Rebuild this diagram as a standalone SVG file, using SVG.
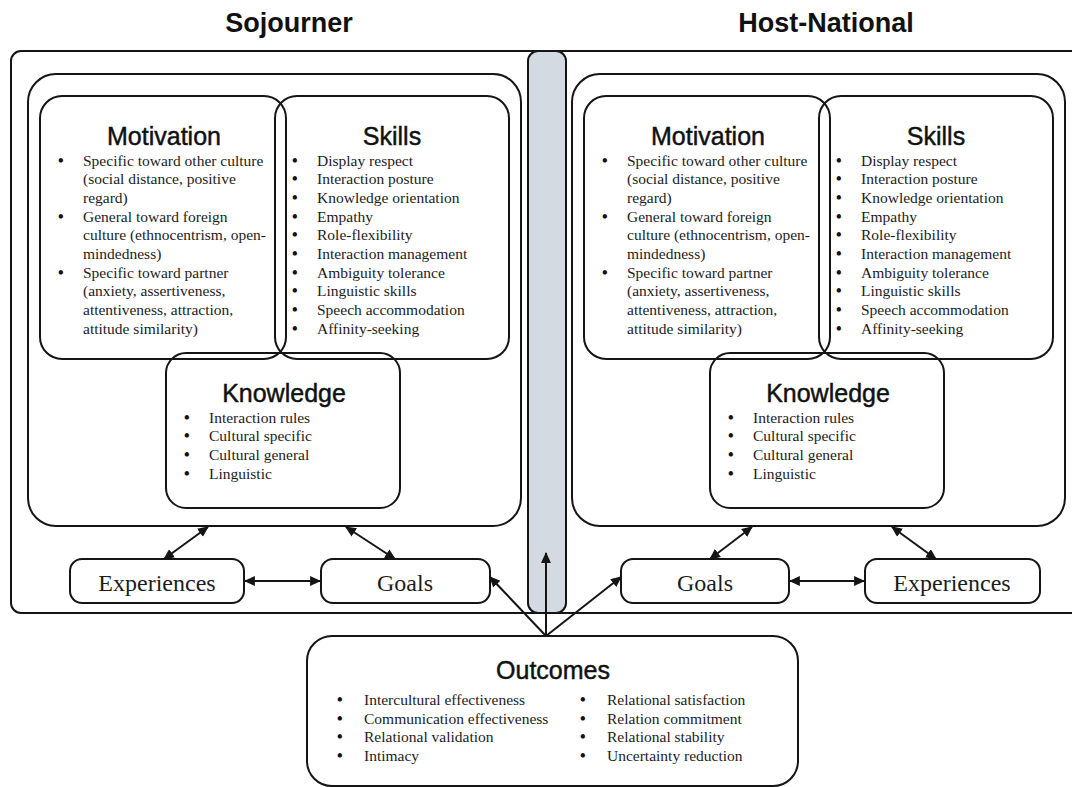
<svg xmlns="http://www.w3.org/2000/svg" width="1072" height="787" viewBox="0 0 1072 787">
  <defs>
    <style>
      .box { fill: none; stroke: #151515; stroke-width: 2; }
      .bar { fill: #d4dae2; stroke: #151515; stroke-width: 2; }
      .head { font-family: "Liberation Sans", Arial, sans-serif; font-weight: bold; font-size: 27px; fill: #111; text-anchor: middle; }
      .title { font-family: "Liberation Sans", Arial, sans-serif; font-size: 25px; fill: #111; stroke: #111; stroke-width: 0.45; text-anchor: middle; }
      .item { font-family: "Liberation Serif", "Times New Roman", serif; font-size: 15.5px; fill: #1c1c1c; }
      .b { font-size: 16px; font-weight: bold; fill: #111; }
      .label { font-family: "Liberation Serif", "Times New Roman", serif; font-size: 24px; fill: #1c1c1c; text-anchor: middle; }
      .link { fill: none; stroke: #151515; stroke-width: 2; }
    </style>
    <marker id="arrow" viewBox="0 0 10 10" refX="9" refY="5" markerWidth="11" markerHeight="11" markerUnits="userSpaceOnUse" orient="auto-start-reverse">
      <path d="M0,0.5 L10,5 L0,9.5 z" fill="#151515"/>
    </marker>
  </defs>

  <rect width="1072" height="787" fill="#ffffff"/>

  <!-- column headings -->
  <text class="head" x="289" y="32">Sojourner</text>
  <text class="head" x="826" y="32">Host-National</text>

  <!-- shared frame and the central channel -->
  <g id="frame">
    <rect class="box" x="11" y="51" width="1090" height="562" rx="10"/>
  </g>
  <g id="channel">
    <rect class="bar" x="528" y="51" width="38" height="562" rx="10"/>
  </g>

  <!-- sojourner competence cluster -->
  <g id="sojourner-competence">
    <rect class="box" x="28" y="74" width="493" height="452" rx="28"/>
  </g>
  <g id="sojourner-motivation">
    <rect class="box" x="40" y="96" width="246" height="263" rx="22"/>
    <text class="title" x="164" y="145">Motivation</text>
    <g class="item">
      <text x="58" y="165.5"><tspan class="b">•</tspan><tspan x="83">Specific toward other culture</tspan></text>
      <text x="83" y="184.2">(social distance, positive</text>
      <text x="83" y="202.9">regard)</text>
      <text x="58" y="221.6"><tspan class="b">•</tspan><tspan x="83">General toward foreign</tspan></text>
      <text x="83" y="240.3">culture (ethnocentrism, open-</text>
      <text x="83" y="259">mindedness)</text>
      <text x="58" y="277.7"><tspan class="b">•</tspan><tspan x="83">Specific toward partner</tspan></text>
      <text x="83" y="296.4">(anxiety, assertiveness,</text>
      <text x="83" y="315.1">attentiveness, attraction,</text>
      <text x="83" y="333.8">attitude similarity)</text>
    </g>
  </g>
  <g id="sojourner-skills">
    <rect class="box" x="275" y="96" width="234" height="263" rx="22"/>
    <text class="title" x="392" y="145">Skills</text>
    <g class="item">
      <text x="292" y="165.5"><tspan class="b">•</tspan><tspan x="317">Display respect</tspan></text>
      <text x="292" y="184.2"><tspan class="b">•</tspan><tspan x="317">Interaction posture</tspan></text>
      <text x="292" y="202.9"><tspan class="b">•</tspan><tspan x="317">Knowledge orientation</tspan></text>
      <text x="292" y="221.6"><tspan class="b">•</tspan><tspan x="317">Empathy</tspan></text>
      <text x="292" y="240.3"><tspan class="b">•</tspan><tspan x="317">Role-flexibility</tspan></text>
      <text x="292" y="259"><tspan class="b">•</tspan><tspan x="317">Interaction management</tspan></text>
      <text x="292" y="277.7"><tspan class="b">•</tspan><tspan x="317">Ambiguity tolerance</tspan></text>
      <text x="292" y="296.4"><tspan class="b">•</tspan><tspan x="317">Linguistic skills</tspan></text>
      <text x="292" y="315.1"><tspan class="b">•</tspan><tspan x="317">Speech accommodation</tspan></text>
      <text x="292" y="333.8"><tspan class="b">•</tspan><tspan x="317">Affinity-seeking</tspan></text>
    </g>
  </g>
  <g id="sojourner-knowledge">
    <rect class="box" x="166" y="353" width="234" height="155" rx="20"/>
    <text class="title" x="284" y="402">Knowledge</text>
    <g class="item">
      <text x="184" y="422.7"><tspan class="b">•</tspan><tspan x="209">Interaction rules</tspan></text>
      <text x="184" y="441.4"><tspan class="b">•</tspan><tspan x="209">Cultural specific</tspan></text>
      <text x="184" y="460.1"><tspan class="b">•</tspan><tspan x="209">Cultural general</tspan></text>
      <text x="184" y="478.8"><tspan class="b">•</tspan><tspan x="209">Linguistic</tspan></text>
    </g>
  </g>
  <g id="sojourner-experiences">
    <rect class="box" x="70" y="559" width="174" height="44" rx="12"/>
    <text class="label" x="157" y="591">Experiences</text>
  </g>
  <g id="sojourner-goals">
    <rect class="box" x="321" y="559" width="169" height="44" rx="12"/>
    <text class="label" x="405" y="591">Goals</text>
  </g>

  <!-- host-national competence cluster -->
  <g id="host-competence">
    <rect class="box" x="572" y="74" width="493" height="452" rx="28"/>
  </g>
  <g id="host-motivation">
    <rect class="box" x="584" y="96" width="246" height="263" rx="22"/>
    <text class="title" x="708" y="145">Motivation</text>
    <g class="item">
      <text x="602" y="165.5"><tspan class="b">•</tspan><tspan x="627">Specific toward other culture</tspan></text>
      <text x="627" y="184.2">(social distance, positive</text>
      <text x="627" y="202.9">regard)</text>
      <text x="602" y="221.6"><tspan class="b">•</tspan><tspan x="627">General toward foreign</tspan></text>
      <text x="627" y="240.3">culture (ethnocentrism, open-</text>
      <text x="627" y="259">mindedness)</text>
      <text x="602" y="277.7"><tspan class="b">•</tspan><tspan x="627">Specific toward partner</tspan></text>
      <text x="627" y="296.4">(anxiety, assertiveness,</text>
      <text x="627" y="315.1">attentiveness, attraction,</text>
      <text x="627" y="333.8">attitude similarity)</text>
    </g>
  </g>
  <g id="host-skills">
    <rect class="box" x="819" y="96" width="234" height="263" rx="22"/>
    <text class="title" x="936" y="145">Skills</text>
    <g class="item">
      <text x="836" y="165.5"><tspan class="b">•</tspan><tspan x="861">Display respect</tspan></text>
      <text x="836" y="184.2"><tspan class="b">•</tspan><tspan x="861">Interaction posture</tspan></text>
      <text x="836" y="202.9"><tspan class="b">•</tspan><tspan x="861">Knowledge orientation</tspan></text>
      <text x="836" y="221.6"><tspan class="b">•</tspan><tspan x="861">Empathy</tspan></text>
      <text x="836" y="240.3"><tspan class="b">•</tspan><tspan x="861">Role-flexibility</tspan></text>
      <text x="836" y="259"><tspan class="b">•</tspan><tspan x="861">Interaction management</tspan></text>
      <text x="836" y="277.7"><tspan class="b">•</tspan><tspan x="861">Ambiguity tolerance</tspan></text>
      <text x="836" y="296.4"><tspan class="b">•</tspan><tspan x="861">Linguistic skills</tspan></text>
      <text x="836" y="315.1"><tspan class="b">•</tspan><tspan x="861">Speech accommodation</tspan></text>
      <text x="836" y="333.8"><tspan class="b">•</tspan><tspan x="861">Affinity-seeking</tspan></text>
    </g>
  </g>
  <g id="host-knowledge">
    <rect class="box" x="710" y="353" width="234" height="155" rx="20"/>
    <text class="title" x="828" y="402">Knowledge</text>
    <g class="item">
      <text x="728" y="422.7"><tspan class="b">•</tspan><tspan x="753">Interaction rules</tspan></text>
      <text x="728" y="441.4"><tspan class="b">•</tspan><tspan x="753">Cultural specific</tspan></text>
      <text x="728" y="460.1"><tspan class="b">•</tspan><tspan x="753">Cultural general</tspan></text>
      <text x="728" y="478.8"><tspan class="b">•</tspan><tspan x="753">Linguistic</tspan></text>
    </g>
  </g>
  <g id="host-goals">
    <rect class="box" x="621" y="559" width="168" height="44" rx="12"/>
    <text class="label" x="705" y="591">Goals</text>
  </g>
  <g id="host-experiences">
    <rect class="box" x="865" y="559" width="175" height="44" rx="12"/>
    <text class="label" x="952" y="591">Experiences</text>
  </g>

  <!-- outcomes -->
  <g id="outcomes">
    <rect class="box" x="307" y="636" width="491" height="150" rx="25"/>
    <text class="title" x="553" y="679">Outcomes</text>
    <g class="item">
      <text x="337" y="705"><tspan class="b">•</tspan><tspan x="364">Intercultural effectiveness</tspan></text>
      <text x="337" y="723.7"><tspan class="b">•</tspan><tspan x="364">Communication effectiveness</tspan></text>
      <text x="337" y="742.4"><tspan class="b">•</tspan><tspan x="364">Relational validation</tspan></text>
      <text x="337" y="761.1"><tspan class="b">•</tspan><tspan x="364">Intimacy</tspan></text>
      <text x="580" y="705"><tspan class="b">•</tspan><tspan x="607">Relational satisfaction</tspan></text>
      <text x="580" y="723.7"><tspan class="b">•</tspan><tspan x="607">Relation commitment</tspan></text>
      <text x="580" y="742.4"><tspan class="b">•</tspan><tspan x="607">Relational stability</tspan></text>
      <text x="580" y="761.1"><tspan class="b">•</tspan><tspan x="607">Uncertainty reduction</tspan></text>
    </g>
  </g>

  <!-- connectors -->
  <g id="connectors">
    <line class="link" x1="164" y1="559" x2="208" y2="527" marker-start="url(#arrow)" marker-end="url(#arrow)"/>
    <line class="link" x1="395" y1="559" x2="346" y2="527" marker-start="url(#arrow)" marker-end="url(#arrow)"/>
    <line class="link" x1="245" y1="581" x2="320" y2="581" marker-start="url(#arrow)" marker-end="url(#arrow)"/>
    <line class="link" x1="710" y1="559" x2="752" y2="527" marker-start="url(#arrow)" marker-end="url(#arrow)"/>
    <line class="link" x1="936" y1="559" x2="892" y2="527" marker-start="url(#arrow)" marker-end="url(#arrow)"/>
    <line class="link" x1="790" y1="581" x2="864" y2="581" marker-start="url(#arrow)" marker-end="url(#arrow)"/>
    <line class="link" x1="546" y1="636" x2="546" y2="553" marker-end="url(#arrow)"/>
    <line class="link" x1="546" y1="636" x2="490" y2="577" marker-end="url(#arrow)"/>
    <line class="link" x1="546" y1="636" x2="621" y2="577" marker-end="url(#arrow)"/>
  </g>
</svg>
